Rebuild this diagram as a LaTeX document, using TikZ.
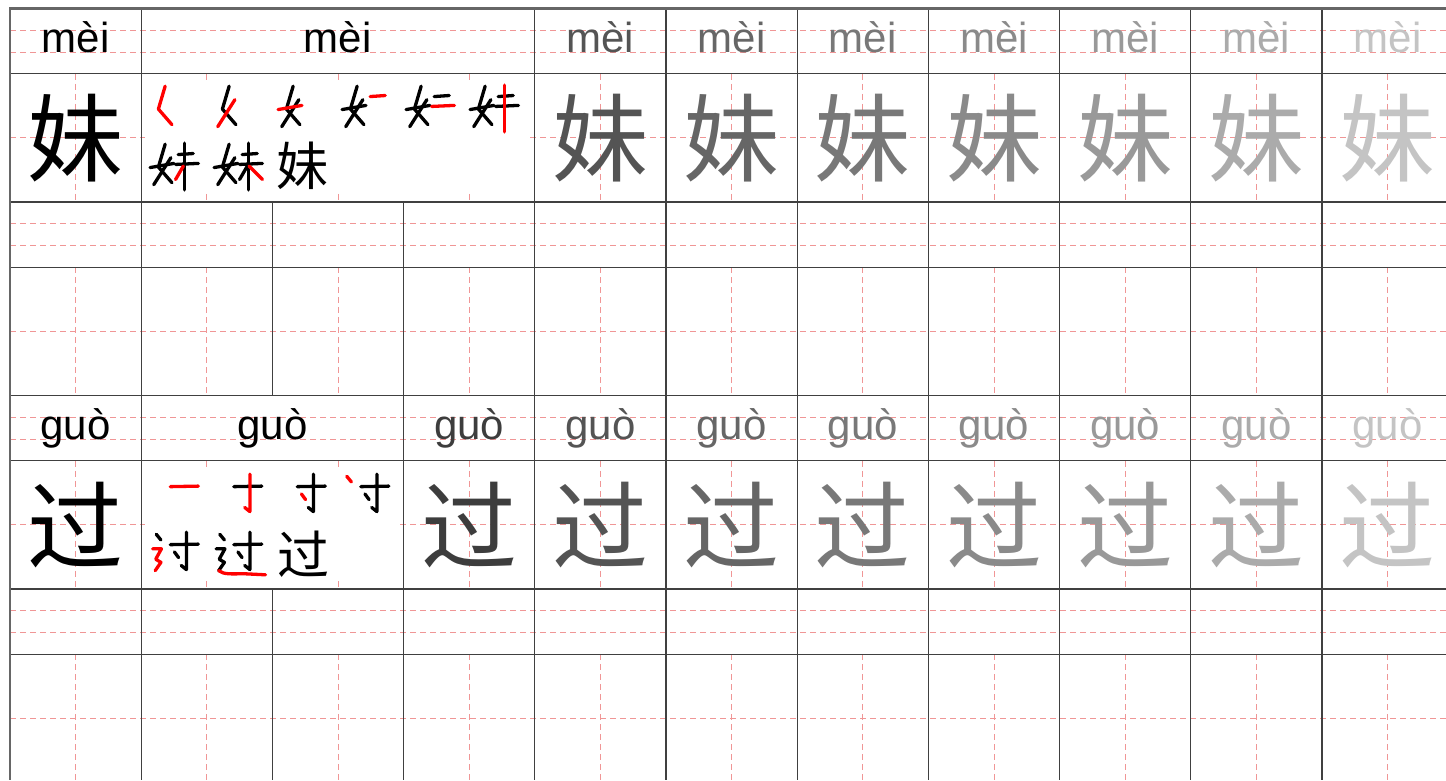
\documentclass[tikz,border=0pt]{standalone}
\usepackage{fontspec}
\setmainfont{Liberation Sans}
\newfontfamily\hzfont{Noto Sans CJK SC}
\definecolor{guidepink}{RGB}{240,150,150}
\tikzset{
	line_grid/.style = {
		draw=black!75,
		line width=1.3pt
	},
	line_frame/.style = {
		draw=black!60,
		line width=2.6pt
	},
	line_guide/.style = {
		draw=guidepink,
		line width=1pt,
		dash pattern=on 6pt off 4pt
	},
	node_py/.style = {
		anchor=base,
		inner sep=0pt,
		font=\fontsize{42}{42}\selectfont
	},
	node_hz/.style = {
		inner sep=0pt,
		font=\hzfont\fontsize{96}{96}\selectfont
	},
	node_hz_small/.style = {
		node_hz,
		font=\hzfont\fontsize{52}{52}\selectfont
	},
	stroke_old/.style = {
		draw=black,
		line width=3.3pt,
		line cap=round,
		line join=round
	},
	stroke_new/.style = {
		stroke_old,
		draw=red
	},
}
% strokes of 妹 and 过, unit = one small glyph
\newcommand\meiA[1]{\draw[#1] (0.33,0.08) -- (0.20,0.52) -- (0.46,0.82);}
\newcommand\meiB[1]{\draw[#1] (0.44,0.34) -- (0.11,0.86);}
\newcommand\meiC[1]{\draw[#1] (0.04,0.53) -- (0.50,0.45);}
\newcommand\meiD[1]{\draw[#1] (0.58,0.28) -- (0.87,0.26);}
\newcommand\meiE[1]{\draw[#1] (0.53,0.47) -- (0.97,0.45);}
\newcommand\meiF[1]{\draw[#1] (0.70,0.06) -- (0.70,0.96);}
\newcommand\meiG[1]{\draw[#1] (0.68,0.50) -- (0.53,0.76);}
\newcommand\meiH[1]{\draw[#1] (0.71,0.50) -- (0.97,0.76);}
\newcommand\guoA[1]{\draw[#1] (0.39,0.32) -- (0.93,0.31);}
\newcommand\guoB[1]{\draw[#1] (0.70,0.08) -- (0.70,0.80) -- (0.60,0.72);}
\newcommand\guoC[1]{\draw[#1] (0.47,0.46) -- (0.55,0.57);}
\newcommand\guoD[1]{\draw[#1] (0.12,0.12) -- (0.21,0.23);}
\newcommand\guoE[1]{\draw[#1] (0.05,0.40) -- (0.22,0.40) -- (0.11,0.60) -- (0.21,0.66) -- (0.10,0.82);}
\newcommand\guoF[1]{\draw[#1] (0.10,0.82) .. controls (0.20,0.90) and (0.35,0.88) .. (0.60,0.88) -- (1.00,0.90);}

\begin{document}
\begin{tikzpicture}[x=1pt, y=-1pt]
\useasboundingbox (0,0) rectangle (1446,780);
\fill[white] (0,0) rectangle (1446,780);

\foreach \r in {0,1,2,3} {
	\pgfmathsetmacro\yt{8.5+193.5*\r}
	\draw[line_guide] (10,\yt+21.8) -- (1446,\yt+21.8) (10,\yt+43.5) -- (1446,\yt+43.5) (10,\yt+129.4) -- (1446,\yt+129.4);
	\foreach \c in {0,...,10}
		\draw[line_guide] ({75.6+131.2*\c},\yt+65.3) -- ++(0,128.2);
}
\fill[white] (145,82) rectangle (530,190);
\fill[white] (145,469) rectangle (398,581);

\foreach \r in {0,1,2,3} {
	\pgfmathsetmacro\yt{8.5+193.5*\r}
	\draw[line_grid] (10,\yt+65.3) -- (1446,\yt+65.3);
	\draw[line_grid] (10,\yt+193.5) -- (1446,\yt+193.5);
}
\foreach \c in {1,4,5,...,10}
	\draw[line_grid] ({10+131.2*\c},8.5) -- ++(0,193.5);
\foreach \c in {1,...,10}
	\draw[line_grid] ({10+131.2*\c},202) -- ++(0,193.5);
\foreach \c in {1,3,4,...,10}
	\draw[line_grid] ({10+131.2*\c},395.5) -- ++(0,193.5);
\foreach \c in {1,...,10}
	\draw[line_grid] ({10+131.2*\c},589) -- ++(0,191);
\draw[line_frame] (1446,8.5) -- (10,8.5) -- (10,780);

\node[node_py] (py_m0) at (75.6,52) {mèi};
\node[node_py] (py_m1) at (337.8,52) {mèi};
\node[node_hz] (hz_m0) at (75.6,137.9) {妹};
\foreach \c/\g in {4/67,5/60,6/53,7/46,8/40,9/33,10/23} {
	\node[node_py, text=black!\g] (py_m\c) at ({75.6+131.2*\c},52) {mèi};
	\node[node_hz, text=black!\g] (hz_m\c) at ({75.6+131.2*\c},137.9) {妹};
}

\begin{scope}[shift={(148,82)}, x=52pt, y=-52pt]
	\meiA{stroke_new}
\end{scope}
\begin{scope}[shift={(212,82)}, x=52pt, y=-52pt]
	\meiA{stroke_old} \meiB{stroke_new}
\end{scope}
\begin{scope}[shift={(276,82)}, x=52pt, y=-52pt]
	\meiA{stroke_old} \meiB{stroke_old} \meiC{stroke_new}
\end{scope}
\begin{scope}[shift={(340,82)}, x=52pt, y=-52pt]
	\meiA{stroke_old} \meiB{stroke_old} \meiC{stroke_old} \meiD{stroke_new}
\end{scope}
\begin{scope}[shift={(404,82)}, x=52pt, y=-52pt]
	\meiA{stroke_old} \meiB{stroke_old} \meiC{stroke_old} \meiD{stroke_old} \meiE{stroke_new}
\end{scope}
\begin{scope}[shift={(468,82)}, x=52pt, y=-52pt]
	\meiA{stroke_old} \meiB{stroke_old} \meiC{stroke_old} \meiD{stroke_old} \meiE{stroke_old} \meiF{stroke_new}
\end{scope}
\begin{scope}[shift={(148,140)}, x=52pt, y=-52pt]
	\meiA{stroke_old} \meiB{stroke_old} \meiC{stroke_old} \meiD{stroke_old} \meiE{stroke_old} \meiF{stroke_old} \meiG{stroke_new}
\end{scope}
\begin{scope}[shift={(212,140)}, x=52pt, y=-52pt]
	\meiA{stroke_old} \meiB{stroke_old} \meiC{stroke_old} \meiD{stroke_old} \meiE{stroke_old} \meiF{stroke_old} \meiG{stroke_old} \meiH{stroke_new}
\end{scope}
\node[node_hz_small] (hz_m_end) at (302,166) {妹};

\node[node_py] (py_g0) at (75.6,439) {guò};
\node[node_py] (py_g1) at (272.4,439) {guò};
\node[node_hz] (hz_g0) at (75.6,524.9) {过};
\foreach \c/\g in {3/76,4/67,5/60,6/53,7/46,8/40,9/33,10/23} {
	\node[node_py, text=black!\g] (py_g\c) at ({75.6+131.2*\c},439) {guò};
	\node[node_hz, text=black!\g] (hz_g\c) at ({75.6+131.2*\c},524.9) {过};
}

\begin{scope}[shift={(150,470)}, x=52pt, y=-52pt]
	\guoA{stroke_new}
\end{scope}
\begin{scope}[shift={(213.5,470)}, x=52pt, y=-52pt]
	\guoA{stroke_old} \guoB{stroke_new}
\end{scope}
\begin{scope}[shift={(277,470)}, x=52pt, y=-52pt]
	\guoA{stroke_old} \guoB{stroke_old} \guoC{stroke_new}
\end{scope}
\begin{scope}[shift={(340.5,470)}, x=52pt, y=-52pt]
	\guoA{stroke_old} \guoB{stroke_old} \guoC{stroke_old} \guoD{stroke_new}
\end{scope}
\begin{scope}[shift={(150,528)}, x=52pt, y=-52pt]
	\guoA{stroke_old} \guoB{stroke_old} \guoC{stroke_old} \guoD{stroke_old} \guoE{stroke_new}
\end{scope}
\begin{scope}[shift={(213.5,528)}, x=52pt, y=-52pt]
	\guoA{stroke_old} \guoB{stroke_old} \guoC{stroke_old} \guoD{stroke_old} \guoE{stroke_old} \guoF{stroke_new}
\end{scope}
\node[node_hz_small] (hz_g_end) at (303,554) {过};
\end{tikzpicture}
\end{document}
